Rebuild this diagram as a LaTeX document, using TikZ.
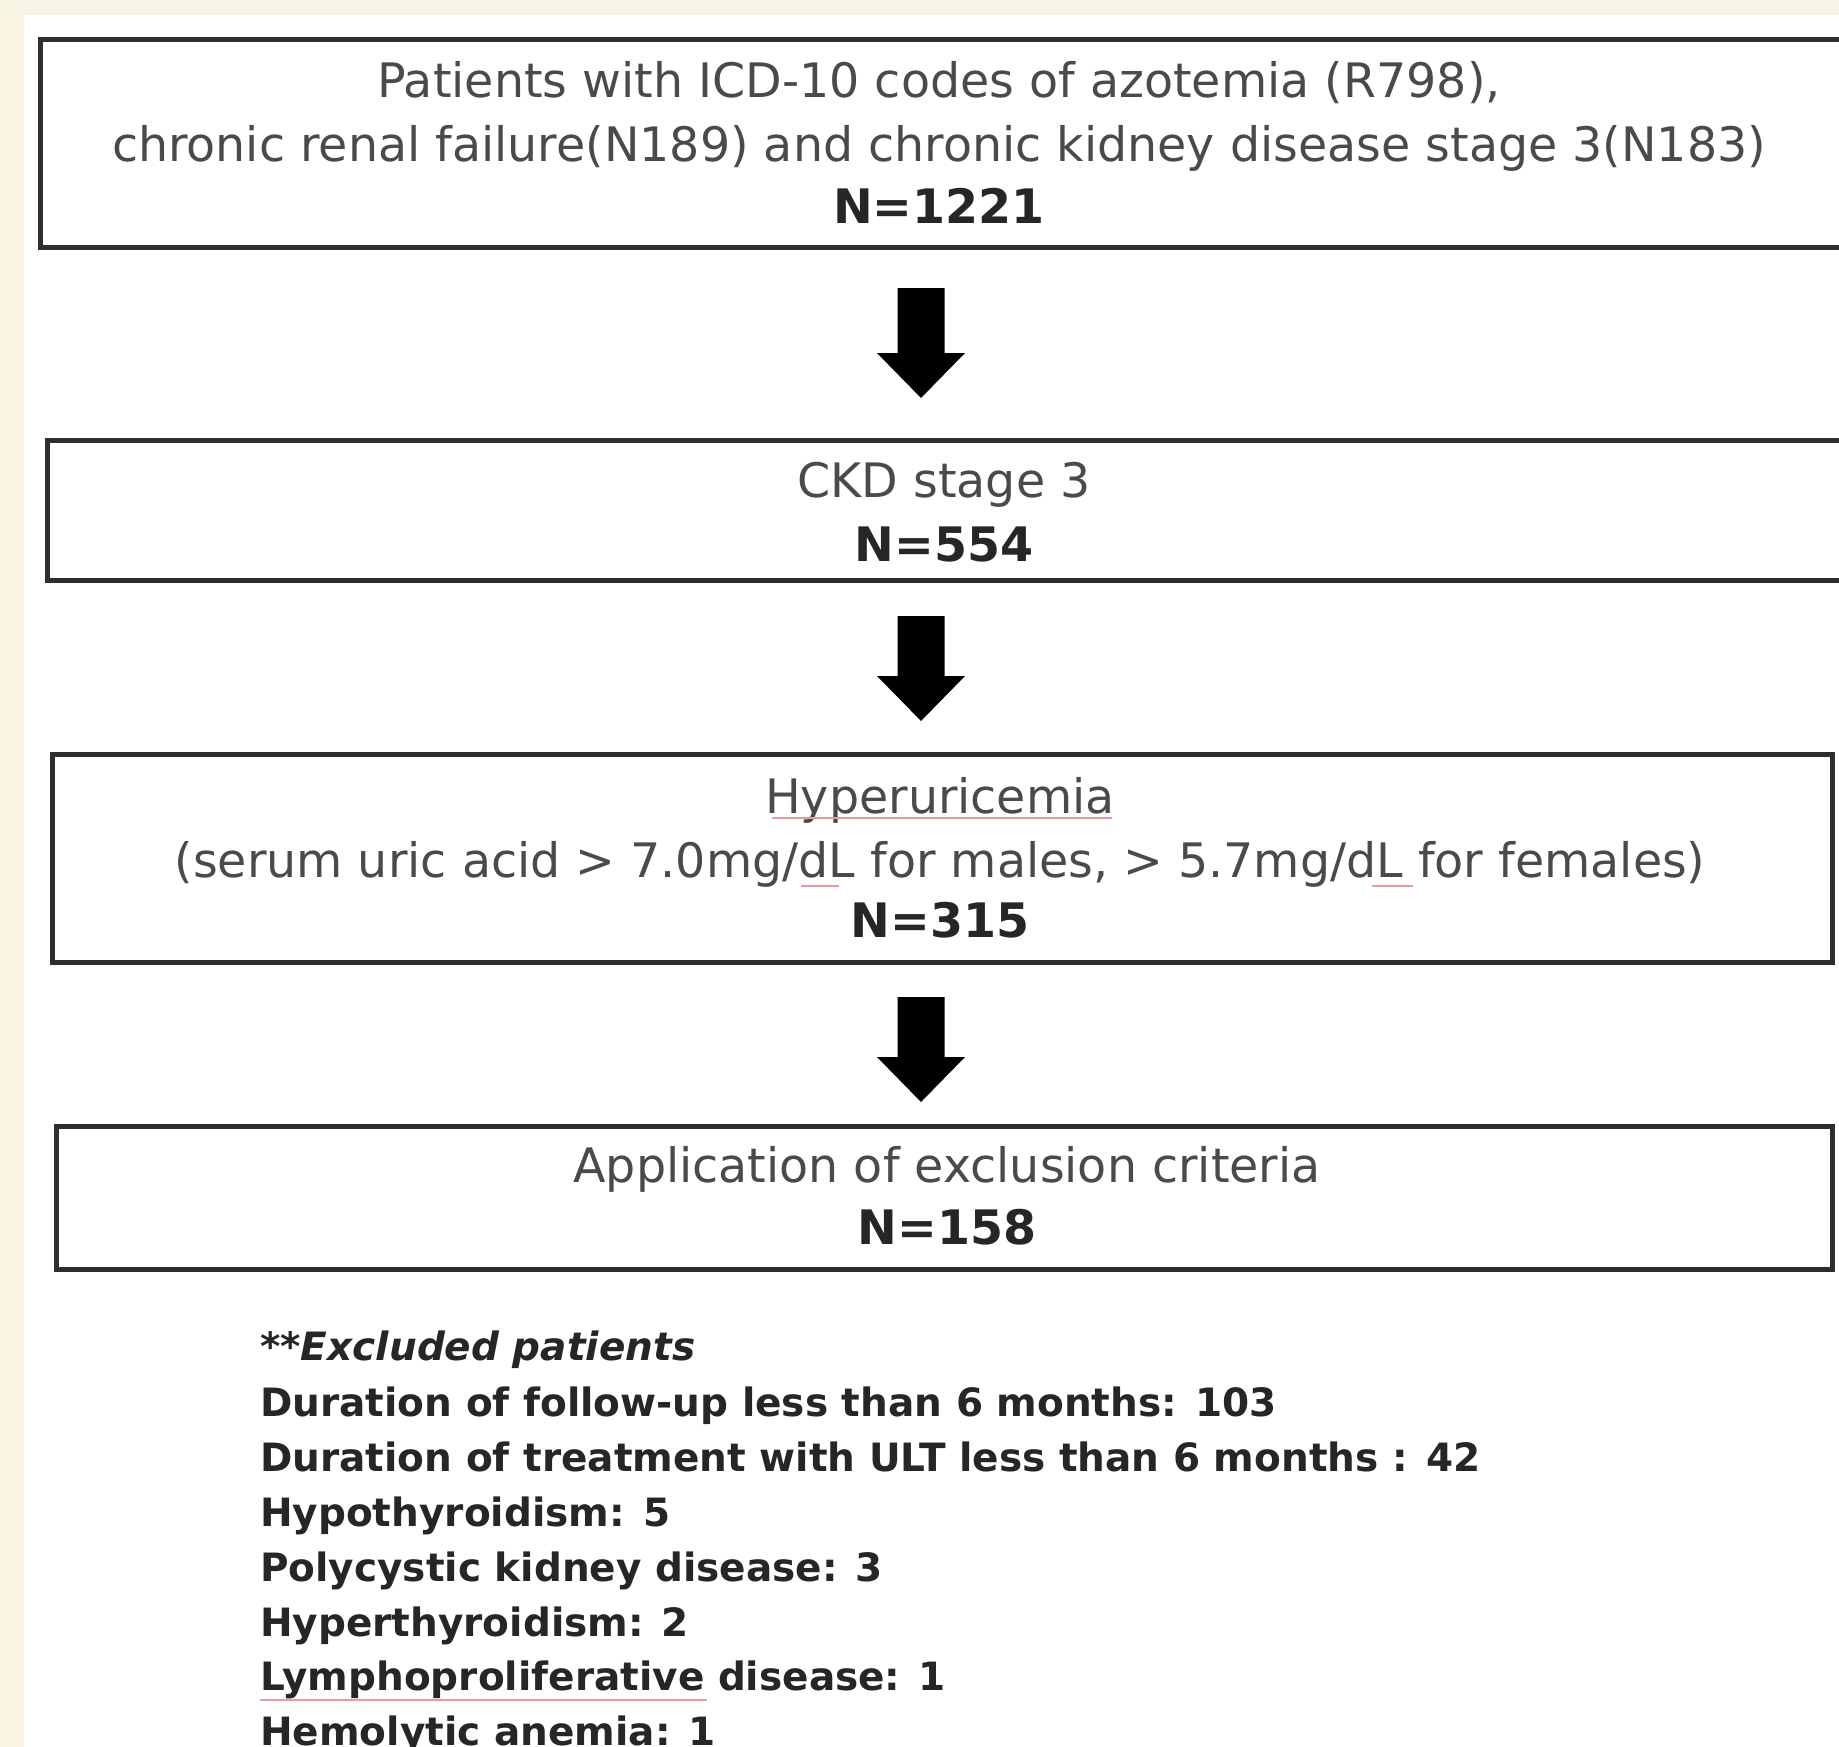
\documentclass[tikz,border=0pt]{standalone}
\usepackage{fontspec}
\setmainfont{DejaVu Sans}
\usetikzlibrary{positioning}
\definecolor{cream}{HTML}{F7F4E3}
\definecolor{boxline}{HTML}{2E2E2E}
\definecolor{txt}{HTML}{4A4A4A}
\definecolor{squig}{HTML}{E89AA0}
\tikzset{
  flowbox/.style={draw=boxline, line width=5pt, fill=white, rectangle, inner sep=0pt},
  boxtext/.style={text=txt, font=\fontsize{47.5}{52}\selectfont, inner sep=0pt, anchor=base},
  boxnum/.style={text=black!85, font=\fontsize{47.5}{52}\selectfont\bfseries, inner sep=0pt, anchor=base},
  exctext/.style={text=black!85, font=\fontsize{39}{44}\selectfont\bfseries, inner sep=0pt, anchor=base west},
  blockarrowfill/.style={fill=black, draw=none},
  spell/.style={draw=squig, line width=1.5pt}
}
\newcommand\blkarrow[3]{% center x, top y, tip y
  \fill[blockarrowfill] (#1-23.5,#2) -- (#1+23.5,#2) -- (#1+23.5,#3-45) -- (#1+44,#3-45) -- (#1,#3) -- (#1-44,#3-45) -- (#1-23.5,#3-45) -- cycle;}
\begin{document}
\begin{tikzpicture}[x=1pt,y=-1pt]
\useasboundingbox (0,0) rectangle (1839,1747);
\begin{scope}
\clip (0,0) rectangle (1839,1747);
\fill[cream] (0,0) rectangle (1839,1747);
\fill[white] (24,15) rectangle (1845,1760);

% boxes
\node[flowbox, minimum width=1820pt, minimum height=207pt] (b1) at (950,143.5) {};
\node[flowbox, minimum width=1813pt, minimum height=140pt] (b2) at (953.5,510) {};
\node[flowbox, minimum width=1780pt, minimum height=208pt] (b3) at (942,858) {};
\node[flowbox, minimum width=1776pt, minimum height=143pt] (b4) at (944,1197.5) {};

% box texts
\node[boxtext] (t1a) at (939,98) {Patients with ICD-10 codes of azotemia (R798),};
\node[boxtext] (t1b) at (939,162) {chronic renal failure(N189) and chronic kidney disease stage 3(N183)};
\node[boxnum]  (t1c) at (939,224) {N=1221};

\node[boxtext] (t2a) at (944,497) {CKD stage 3};
\node[boxnum]  (t2b) at (944,561) {N=554};

\node[boxtext] (t3a) at (940,813) {Hyperuricemia};
\node[boxtext] (t3b) at (940,877) {(serum uric acid > 7.0mg/dL for males, > 5.7mg/dL for females)};
\node[boxnum]  (t3c) at (940,937) {N=315};

\node[boxtext] (t4a) at (947,1182) {Application of exclusion criteria};
\node[boxnum]  (t4b) at (947,1244) {N=158};

% spell-check underlines
\draw[spell] (772,818) -- (1112,818);
\draw[spell] (801,886) -- (839,886);
\draw[spell] (1372,886) -- (1413,886);
\draw[spell] (260,1700) -- (707,1700);

% block arrows
\blkarrow{921}{288}{398}
\blkarrow{921}{616}{721}
\blkarrow{921}{997}{1102}

% excluded patients
\node[exctext, font=\fontsize{39}{44}\selectfont\bfseries\itshape] (e0) at (260,1360) {**Excluded patients};
\node[exctext] (e1) at (260,1416) {Duration of follow-up less than 6 months: 103};
\node[exctext] (e2) at (260,1471) {Duration of treatment with ULT less than 6 months : 42};
\node[exctext] (e3) at (260,1526) {Hypothyroidism: 5};
\node[exctext] (e4) at (260,1581) {Polycystic kidney disease: 3};
\node[exctext] (e5) at (260,1636) {Hyperthyroidism: 2};
\node[exctext] (e6) at (260,1690) {Lymphoproliferative disease: 1};
\node[exctext] (e7) at (260,1745) {Hemolytic anemia: 1};
\end{scope}
\end{tikzpicture}
\end{document}
